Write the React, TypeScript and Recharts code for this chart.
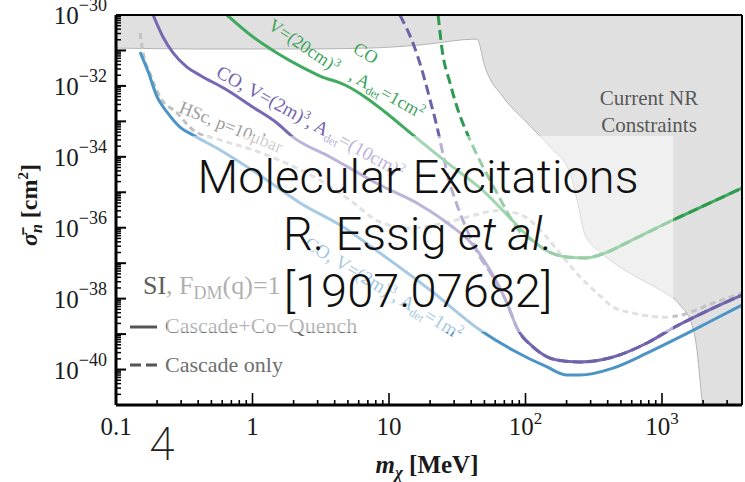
import React from 'react';
import { ComposedChart, Line, Area, XAxis, YAxis, ReferenceLine } from 'recharts';

const SERIF = '"Liberation Serif", "Times New Roman", serif';
const SANS = 'Roboto, "Open Sans", sans-serif';

const X_DOMAIN: [number, number] = [0.1, 3855];
const Y_DOMAIN: [number, number] = [1e-41, 1e-30];

const xMajorTicks = [0.1, 1, 10, 100, 1000];
const xTickBase = ['0.1', '1', '10', '10', '10'];
const xTickSup = ['', '', '', '2', '3'];
const yLabelExponents = [-30, -32, -34, -36, -38, -40];

// CO, V=(2m)^3, A_det=1m^2  (blue, Cascade+Co-Quench)
const blueMass = [0.15, 0.172, 0.2, 0.236, 0.294, 0.367, 0.578, 1.28, 2.23, 4.38, 8.59, 20, 46.4, 81, 144, 201, 251, 438, 776, 1355, 2364, 3855];
const blueSigma = [9.0e-32, 2.5e-32, 4.9e-33, 1.84e-33, 6.9e-34, 4.1e-34, 1.56e-34, 2.2e-35, 5.0e-36, 1.19e-36, 1.93e-37, 1.75e-38, 1.3e-39, 3.5e-40, 1.18e-40, 7.0e-41, 7.0e-41, 1.1e-40, 2.9e-40, 8.3e-40, 2.5e-39, 6.6e-39];

// CO, V=(2m)^3, A_det=(10cm)^2  (purple)
const purpleMass = [0.187, 0.221, 0.262, 0.331, 0.412, 0.65, 1.01, 1.51, 1.98, 3.7, 8.59, 16.9, 28, 41.2, 54.9, 73.2, 86.7, 114, 170, 251, 438, 776, 1204, 2364, 3855];
const purpleSigma = [1e-30, 2.4e-31, 8.5e-32, 3.4e-32, 2.0e-32, 7.7e-33, 2.5e-33, 9.0e-34, 3.6e-34, 9.9e-35, 1.6e-35, 4.4e-36, 1.19e-36, 3.25e-37, 6.4e-38, 7.5e-39, 1.48e-39, 4.3e-40, 1.85e-40, 1.63e-40, 2.25e-40, 5.6e-40, 1.48e-39, 5.4e-39, 1.26e-38];
const purpleDashMass = [12, 15, 17.7, 20, 22.5, 24.5, 27.1, 31.5, 37.3, 46.4, 54.9, 73.2, 86.7, 114, 170, 251, 438, 776, 1204, 2364, 3855];
const purpleDashSigma = [1e-30, 1.6e-31, 2.3e-32, 4.0e-33, 6.9e-34, 1.56e-34, 2.7e-35, 4.4e-36, 8.6e-37, 1.5e-37, 5.6e-38, 7.5e-39, 1.48e-39, 4.3e-40, 1.85e-40, 1.63e-40, 2.25e-40, 5.6e-40, 1.48e-39, 5.4e-39, 1.26e-38];

// CO, V=(20cm)^3, A_det=1cm^2  (green)
const greenMass = [0.65, 1.01, 1.51, 2.23, 3.12, 4.76, 6.67, 9.35, 15, 28, 46.4, 81, 108, 144, 201, 273, 382, 583, 1204, 2248, 3855];
const greenSigma = [1e-30, 2.4e-31, 8.5e-32, 3.6e-32, 1.9e-32, 1.06e-32, 4.9e-33, 1.84e-33, 4.1e-34, 5.9e-35, 1.32e-35, 1.55e-36, 5.1e-37, 2.2e-37, 1.5e-37, 1.4e-37, 1.93e-37, 4.2e-37, 1.65e-36, 5.0e-36, 1.32e-35];
const greenDashMass = [22.9, 24.5, 28, 32, 39.2, 48.8, 61.8, 77, 91.2, 108, 144, 201, 273, 382, 583, 1204, 2248, 3855];
const greenDashSigma = [1e-30, 1.03e-31, 1.2e-32, 2.1e-33, 3.0e-34, 5.2e-35, 9.5e-36, 2.0e-36, 7.6e-37, 4.8e-37, 2.2e-37, 1.5e-37, 1.4e-37, 1.93e-37, 4.2e-37, 1.65e-36, 5.0e-36, 1.32e-35];

// HSc, p=10 μbar  (gray dashed)
const hscMass = [0.15, 0.158, 0.177, 0.21, 0.28, 0.367, 0.578, 1.01, 1.88, 3.28, 5.18, 8.59, 14.3, 23.6, 39.2, 61.8, 91.2, 128, 188, 251, 334, 438, 613, 1017, 1355, 2364, 3855];
const hscSigma = [3.1e-31, 8.5e-32, 2.3e-32, 4.9e-33, 1.72e-33, 5.7e-34, 3.0e-34, 1.56e-34, 5.9e-35, 1.95e-35, 6.0e-36, 1.45e-36, 9.8e-37, 1.27e-36, 2.1e-36, 3.0e-36, 2.4e-36, 8.6e-37, 1.5e-37, 4.1e-38, 1.44e-38, 5.8e-39, 3.9e-39, 3.0e-39, 3.4e-39, 7.5e-39, 1.44e-38];

// Current NR constraints: lower edge of excluded region
const nrMass = [0.1, 0.412, 2.23, 7.26, 16.9, 44.1, 50.5, 68.4, 103, 151, 212, 243, 273, 351, 492, 690, 967, 1355, 1659, 1805, 1899, 1997, 3855];
const nrSigma = [1.17e-31, 1.1e-31, 1.1e-31, 1.17e-31, 1.43e-31, 2.1e-31, 3.4e-32, 4.9e-33, 9.0e-34, 1.9e-34, 3.5e-35, 4.4e-36, 6.2e-37, 2.1e-37, 7.8e-38, 3.6e-38, 1.75e-38, 6.6e-39, 1.8e-39, 3.5e-40, 5.1e-41, 1e-41, 1e-41];

const pair = (ms: number[], ss: number[]) => ms.map((m, i) => ({ m, s: ss[i] }));
const blueData = pair(blueMass, blueSigma);
const purpleData = pair(purpleMass, purpleSigma);
const purpleDashData = pair(purpleDashMass, purpleDashSigma);
const greenData = pair(greenMass, greenSigma);
const greenDashData = pair(greenDashMass, greenDashSigma);
const hscData = pair(hscMass, hscSigma);
const nrData = nrMass.map((m, i) => ({ m, r: [nrSigma[i], Y_DOMAIN[1]] }));

const xTicks: number[] = [];
for (let e = -1; e <= 3; e++) {
  for (let k = 1; k <= 9; k++) {
    const v = Number(`${k}e${e}`);
    if (v <= X_DOMAIN[1]) xTicks.push(v);
  }
}
const yTicks: number[] = [];
for (let e = -41; e <= -31; e++) {
  for (let k = 1; k <= 9; k++) yTicks.push(Number(`${k}e${e}`));
}
yTicks.push(1e-30);

const XTick = (props: any) => {
  const { x, y, payload } = props;
  const idx = xMajorTicks.indexOf(payload.value);
  const major = idx >= 0;
  return (
    <g>
      <line x1={x} x2={x} y1={y} y2={y - (major ? 12 : 5)} stroke="#000" strokeWidth={1.6} />
      {major && (
        <text x={x} y={y + 30} textAnchor="middle" fontFamily={SERIF} fontSize={25} fill="#1a1a1a">
          {xTickBase[idx]}
          {xTickSup[idx] && (
            <tspan dy={-11} fontSize={17}>{xTickSup[idx]}</tspan>
          )}
        </text>
      )}
    </g>
  );
};

const YTick = (props: any) => {
  const { x, y, payload } = props;
  const v = payload.value;
  const e = Math.floor(Math.log10(v) + 1e-9);
  const mant = Math.round(v / Math.pow(10, e));
  const major = mant === 1;
  const show = major && yLabelExponents.includes(e);
  return (
    <g>
      <line x1={x} x2={x + (major ? 10 : 5)} y1={y} y2={y} stroke="#000" strokeWidth={major ? 2 : 1.5} />
      {show && (
        <text x={x - 9} y={y + 9} textAnchor="end" fontFamily={SERIF} fontSize={25} fill="#1a1a1a">
          10<tspan dy={-13} fontSize={18}>{`\u2212${-e}`}</tspan>
        </text>
      )}
    </g>
  );
};

const Sub = ({ children, size = 12, d = 4 }: any) => (
  <tspan dy={d} fontSize={size}>{children}</tspan>
);

export default function App() {
  return (
    <div style={{ position: 'absolute', left: 0, top: 0, width: 745, height: 482, background: '#fff', overflow: 'hidden' }}>
      <ComposedChart width={745} height={482} margin={{ top: 15, right: 3, bottom: 0, left: 0 }}>
        <XAxis
          dataKey="m"
          type="number"
          scale="log"
          domain={X_DOMAIN}
          allowDataOverflow
          ticks={xTicks}
          interval={0}
          tick={(p: any) => <XTick {...p} />}
          tickLine={false}
          tickSize={0}
          tickMargin={0}
          height={77}
          axisLine={{ stroke: '#000', strokeWidth: 3 }}
        />
        <YAxis
          type="number"
          scale="log"
          domain={Y_DOMAIN}
          allowDataOverflow
          ticks={yTicks}
          interval={0}
          tick={(p: any) => <YTick {...p} />}
          tickLine={false}
          tickSize={0}
          tickMargin={0}
          width={116}
          axisLine={{ stroke: '#000', strokeWidth: 3 }}
        />
        <Area data={nrData} dataKey="r" type="monotone" fill="#e0e0e0" fillOpacity={1} stroke="#b4b4b4" strokeWidth={1} isAnimationActive={false} dot={false} activeDot={false} />
        <Line data={hscData} dataKey="s" type="monotone" stroke="#c2c2c2" strokeWidth={3} strokeDasharray="6 4" dot={false} activeDot={false} isAnimationActive={false} />
        <Line data={blueData} dataKey="s" type="monotone" stroke="#4d94c6" strokeWidth={3} dot={false} activeDot={false} isAnimationActive={false} />
        <Line data={purpleData} dataKey="s" type="monotone" stroke="#7867b2" strokeWidth={3} dot={false} activeDot={false} isAnimationActive={false} />
        <Line data={purpleDashData} dataKey="s" type="monotone" stroke="#6c62a8" strokeWidth={3} strokeDasharray="10 5" dot={false} activeDot={false} isAnimationActive={false} />
        <Line data={greenData} dataKey="s" type="monotone" stroke="#40aa5f" strokeWidth={3} dot={false} activeDot={false} isAnimationActive={false} />
        <Line data={greenDashData} dataKey="s" type="monotone" stroke="#2e9a4f" strokeWidth={3} strokeDasharray="10 5" dot={false} activeDot={false} isAnimationActive={false} />
        <ReferenceLine y={Y_DOMAIN[1]} stroke="#000" strokeWidth={2} />
        <ReferenceLine x={X_DOMAIN[1]} stroke="#000" strokeWidth={2} />
      </ComposedChart>

      <svg width={745} height={482} style={{ position: 'absolute', left: 0, top: 0, pointerEvents: 'none' }}>
        {/* axis titles */}
        <text x={427} y={473} textAnchor="middle" fontFamily={SERIF} fontSize={25} fontWeight="bold" fill="#1a1a1a">
          <tspan fontStyle="italic">m</tspan>
          <tspan dy={5} fontSize={17} fontStyle="italic">χ</tspan>
          <tspan dy={-5}> [MeV]</tspan>
        </text>
        <text transform="rotate(-90 37 205)" x={37} y={205} textAnchor="middle" fontFamily={SERIF} fontSize={24} fontWeight="bold" fill="#1a1a1a">
          <tspan fontStyle="italic">{'\u03C3\u0304'}</tspan>
          <tspan dy={5} fontSize={16} fontStyle="italic">n</tspan>
          <tspan dy={-5}> [cm</tspan>
          <tspan dy={-9} fontSize={15}>2</tspan>
          <tspan dy={9}>]</tspan>
        </text>

        {/* constraint label */}
        <text x={649} y={105} textAnchor="middle" fontFamily={SERIF} fontSize={21} fill="#585858">Current NR</text>
        <text x={649} y={132} textAnchor="middle" fontFamily={SERIF} fontSize={21} fill="#585858">Constraints</text>

        {/* curve labels */}
        <text transform="rotate(34 267 28)" x={267} y={28} fontFamily={SERIF} fontSize={18} fill="#3da35c">
          V=(20cm)<tspan dy={-7} fontSize={12}>3</tspan>
        </text>
        <text transform="rotate(29 348 79)" x={348} y={79} fontFamily={SERIF} fontSize={18} fill="#3da35c">
          , A<Sub>det</Sub><tspan dy={-4}>=1cm</tspan><tspan dy={-7} fontSize={12}>2</tspan>
        </text>
        <text transform="rotate(30 352 52)" x={352} y={52} fontFamily={SERIF} fontSize={18} fill="#3da35c">CO</text>
        <text transform="rotate(29 215 76)" x={215} y={76} fontFamily={SERIF} fontSize={19} fill="#7565b0">
          CO, V=(2m)<tspan dy={-7} fontSize={12}>3</tspan><tspan dy={7}>, A</tspan><Sub>det</Sub><tspan dy={-4}>=(10cm)</tspan><tspan dy={-7} fontSize={12}>2</tspan>
        </text>
        <text transform="rotate(22 178 112)" x={178} y={112} fontFamily={SERIF} fontSize={18} fill="#9e9e9e">
          HSc, p=10μbar
        </text>
        <text transform="rotate(31 303 247)" x={303} y={247} fontFamily={SERIF} fontSize={19} fill="#4a90c2">
          CO, V=(2m)<tspan dy={-7} fontSize={12}>3</tspan><tspan dy={7}>, A</tspan><Sub>det</Sub><tspan dy={-4}>=1m</tspan><tspan dy={-7} fontSize={12}>2</tspan>
        </text>

        {/* legend */}
        <text x={143} y={294} fontFamily={SERIF} fontSize={26} fill="#5e5e5e">
          SI, F<tspan dy={5} fontSize={18}>DM</tspan><tspan dy={-5}>(q)=1</tspan>
        </text>
        <line x1={130} x2={157} y1={327} y2={327} stroke="#555" strokeWidth={3} />
        <text x={165} y={333} fontFamily={SERIF} fontSize={22} fill="#6e6e6e">Cascade+Co−Quench</text>
        <line x1={130} x2={157} y1={365} y2={365} stroke="#555" strokeWidth={3} strokeDasharray="11 5" />
        <text x={165} y={372} fontFamily={SERIF} fontSize={22} fill="#6e6e6e">Cascade only</text>

        {/* translucent title panel */}
        <rect x={167} y={136} width={506} height={196} fill="#fff" fillOpacity={0.5} />
        <text x={418} y={193} textAnchor="middle" fontFamily={SANS} fontWeight={300} fontSize={47} fill="#111">Molecular Excitations</text>
        <text x={418} y={250} textAnchor="middle" fontFamily={SANS} fontWeight={300} fontSize={47} fill="#111">
          R. Essig <tspan fontStyle="italic">et al.</tspan>
        </text>
        <text x={418} y={307} textAnchor="middle" fontFamily={SANS} fontWeight={300} fontSize={47} fill="#111">[1907.07682]</text>
        <text x={162} y={460} textAnchor="middle" fontFamily={SANS} fontWeight={200} fontSize={46} fill="#222">4</text>
      </svg>
    </div>
  );
}
